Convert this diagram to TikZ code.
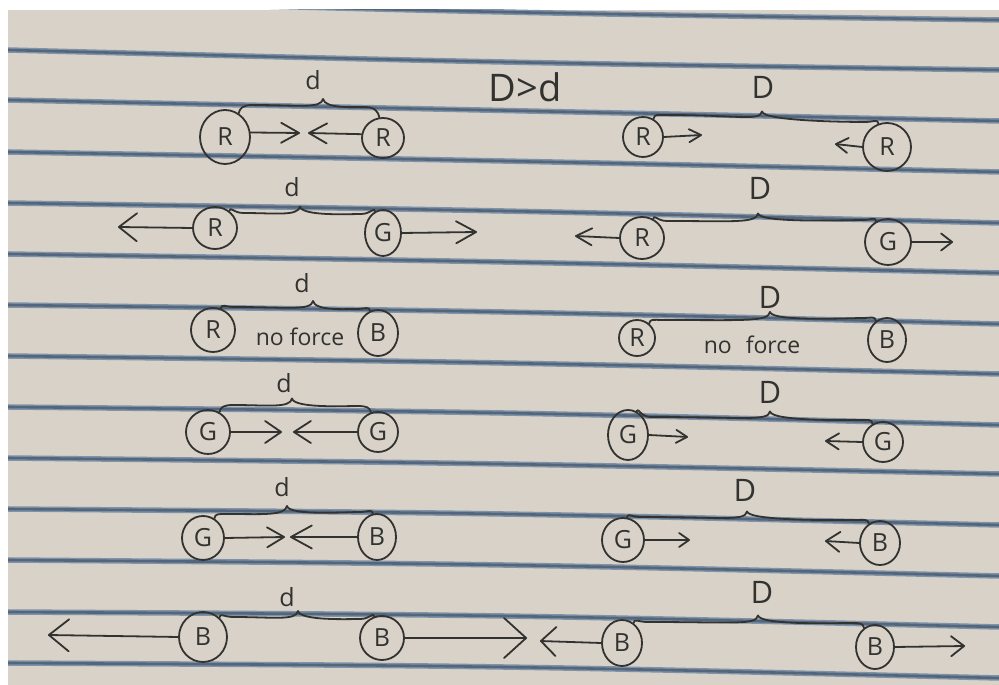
\documentclass[tikz,border=0pt]{standalone}
\usepackage{fontspec}
\setmainfont{Open Sans}
\usetikzlibrary{arrows.meta,shapes.geometric,calc}
\definecolor{paper}{RGB}{216,210,200}
\definecolor{rulelt}{RGB}{128,146,168}
\definecolor{ruledk}{RGB}{84,102,124}
\definecolor{inkc}{RGB}{50,50,48}
\tikzset{
  ink/.style={draw=inkc, line width=1.8pt, line cap=round, line join=round},
  ball/.style={ellipse, ink, inner sep=0pt, text=inkc, font=\fontsize{25}{27}\selectfont},
  sz/.style 2 args={minimum width=#1pt, minimum height=#2pt},
  lbl/.style={text=inkc, inner sep=0pt, font=\fontsize{25}{27}\selectfont},
  bigl/.style={text=inkc, inner sep=0pt, font=\fontsize{31}{33}\selectfont},
  nf/.style={text=inkc, inner sep=0pt, font=\fontsize{23}{25}\selectfont},
  arr/.style 2 args={ink, -{Straight Barb[length=#1pt,width=#2pt,round]}},
}
% brace: start anchor, end anchor, cusp x, left level, right level
\newcommand\hbr[5]{%
  \draw[ink] let \p1=(#1), \p2=(#2), \n1={(#4+#5)/2} in
  (\p1) .. controls (\x1+1pt,\y1+5pt) and (\x1+4pt,#4pt) .. (\x1+14pt,#4pt)
  .. controls (#3pt-25pt,#4pt) and (#3pt-2pt,\n1*1pt-3pt) .. (#3pt,\n1*1pt+7pt)
  .. controls (#3pt+2pt,\n1*1pt-3pt) and (\x2-25pt,#5pt) .. (\x2-14pt,#5pt)
  .. controls (\x2-4pt,#5pt) and (\x2-1pt,\y2+5pt) .. (\p2);}
\begin{document}
\begin{tikzpicture}[x=1pt,y=1pt]
\useasboundingbox (0,0) rectangle (999,685);
\fill[white] (0,0) rectangle (999,685);
\fill[paper] (8,0) rectangle (999,675);
\begin{scope}
\clip (8,0) rectangle (999,675);
\foreach \yl/\ym/\yr in {-1/12/20, 50/62/70, 100/111/121, 152/161/172, 203/211/223, 254/262/273, 305/312/324, 356/363/374, 407/413/425, 458/464/474, 509/514/525, 560/565/576, 612/616/627, 663/667/678}{
  \draw[rulelt, line width=5.5pt] (8,{685-\yl}) .. controls (503,{685-(8*\ym-\yl-\yr)/6}) .. (999,{685-\yr});
  \draw[ruledk, line width=2.6pt] (8,{685-\yl}) .. controls (503,{685-(8*\ym-\yl-\yr)/6}) .. (999,{685-\yr});
}
\end{scope}

% title
\node[bigl, font=\fontsize{38}{40}\selectfont] (title) at (525,598) {D>d};

% ---------- row 1 ----------
\node[ball, sz={50}{54}] (a1) at (225,548) {R};
\node[ball, sz={42}{40}] (b1) at (383,547) {R};
\node[lbl] (ld1) at (313,605) {d};
\hbr{a1.60}{b1.100}{323}{580}{578}
\coordinate (t1a) at (300,552);
\coordinate (t1b) at (308,552);
\draw[arr={18}{20}] (a1.10) -- (t1a);
\draw[arr={18}{20}] (b1.170) -- (t1b);

\node[ball, sz={40}{40}] (a1r) at (643,548) {R};
\node[ball, sz={48}{48}] (b1r) at (887,538) {R};
\node[bigl] (lD1) at (763,598) {D};
\hbr{a1r.60}{b1r.110}{762}{570}{563}
\coordinate (t1c) at (702,550);
\coordinate (t1d) at (835,541);
\draw[arr={12}{13}] (a1r.east) -- (t1c);
\draw[arr={12}{15}] (b1r.west) -- (t1d);

% ---------- row 2 ----------
\node[ball, sz={44}{42}] (a2) at (215,457) {R};
\node[ball, sz={36}{46}] (b2) at (383,452) {G};
\node[lbl] (ld2) at (292,498) {d};
\hbr{a2.50}{b2.110}{300}{472}{471}
\coordinate (t2a) at (118,458);
\coordinate (t2b) at (477,453);
\draw[arr={18}{28}] (a2.west) -- (t2a);
\draw[arr={20}{22}] (b2.east) -- (t2b);

\node[ball, sz={44}{42}] (a2r) at (642,447) {R};
\node[ball, sz={46}{46}] (b2r) at (888,443) {G};
\node[bigl] (lD2) at (760,497) {D};
\hbr{a2r.60}{b2r.120}{758}{464}{465}
\coordinate (t2c) at (575,449);
\coordinate (t2d) at (953,443);
\draw[arr={16}{17}] (a2r.west) -- (t2c);
\draw[arr={11}{17}] (b2r.east) -- (t2d);

% ---------- row 3 ----------
\node[ball, sz={44}{44}] (a3) at (213,355) {R};
\node[ball, sz={40}{46}] (b3) at (378,352) {B};
\node[lbl] (ld3) at (302,402) {d};
\hbr{a3.70}{b3.110}{313}{378}{376}
\node[nf] (nf3) at (300,348) {no force};

\node[ball, sz={36}{36}] (a3r) at (637,347) {R};
\node[ball, sz={38}{44}] (b3r) at (887,345) {B};
\node[bigl] (lD3) at (770,388) {D};
\hbr{a3r.50}{b3r.120}{770}{365}{367}
\node[nf] (nf3r) at (752,340) {no\hspace{14pt}force};

% ---------- row 4 ----------
\node[ball, sz={44}{44}] (a4) at (208,253) {G};
\node[ball, sz={40}{40}] (b4) at (378,253) {G};
\node[lbl] (ld4) at (284,302) {d};
\hbr{a4.60}{b4.110}{292}{280}{279}
\coordinate (t4a) at (282,253);
\coordinate (t4b) at (293,253);
\draw[arr={16}{22}] (a4.east) -- (t4a);
\draw[arr={17}{22}] (b4.west) -- (t4b);

\node[ball, sz={40}{50}] (a4r) at (628,250) {G};
\node[ball, sz={40}{40}] (b4r) at (883,243) {G};
\node[bigl] (lD4) at (770,293) {D};
\hbr{a4r.70}{b4r.120}{770}{268}{265}
\coordinate (t4c) at (688,248);
\coordinate (t4d) at (825,244);
\draw[arr={11}{13}] (a4r.east) -- (t4c);
\draw[arr={13}{16}] (b4r.west) -- (t4d);

% ---------- row 5 ----------
\node[ball, sz={42}{44}] (a5) at (203,147) {G};
\node[ball, sz={38}{46}] (b5) at (377,148) {B};
\node[lbl] (ld5) at (282,198) {d};
\hbr{a5.60}{b5.100}{287}{171}{173}
\coordinate (t5a) at (285,148);
\coordinate (t5b) at (290,148);
\draw[arr={17}{20}] (a5.east) -- (t5a);
\draw[arr={21}{23}] (b5.west) -- (t5b);

\node[ball, sz={42}{44}] (a5r) at (623,145) {G};
\node[ball, sz={40}{44}] (b5r) at (880,142) {B};
\node[bigl] (lD5) at (745,195) {D};
\hbr{a5r.80}{b5r.120}{747}{168}{165}
\coordinate (t5c) at (690,145);
\coordinate (t5d) at (825,144);
\draw[arr={10}{14}] (a5r.east) -- (t5c);
\draw[arr={14}{20}] (b5r.west) -- (t5d);

% ---------- row 6 ----------
\node[ball, sz={48}{50}] (a6) at (203,48) {B};
\node[ball, sz={44}{44}] (b6) at (382,47) {B};
\node[lbl] (ld6) at (287,88) {d};
\hbr{a6.50}{b6.110}{298}{68}{66}
\coordinate (t6a) at (48,50);
\coordinate (t6b) at (527,47);
\draw[arr={20}{32}] (a6.west) -- (t6a);
\draw[arr={22}{40}] (b6.east) -- (t6b);

\node[ball, sz={40}{46}] (a6r) at (622,42) {B};
\node[ball, sz={38}{44}] (b6r) at (875,38) {B};
\node[bigl] (lD6) at (762,93) {D};
\hbr{a6r.60}{b6r.120}{758}{63}{62}
\coordinate (t6c) at (540,44);
\coordinate (t6d) at (965,39);
\draw[arr={15}{29}] (a6r.west) -- (t6c);
\draw[arr={13}{20}] (b6r.east) -- (t6d);
\end{tikzpicture}
\end{document}
